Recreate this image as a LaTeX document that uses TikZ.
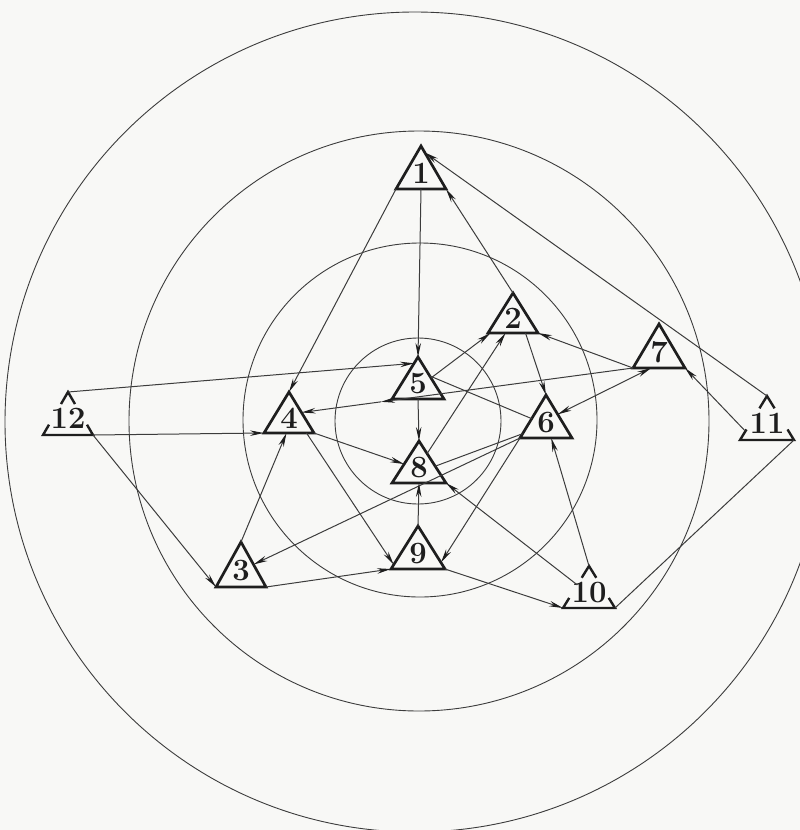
\documentclass[tikz,border=0pt]{standalone}
\usetikzlibrary{arrows.meta,calc}
\definecolor{bg}{RGB}{248,248,246}
\definecolor{ink}{RGB}{30,30,30}
\definecolor{thin}{RGB}{60,60,60}
\newcommand\mytri[6]{%
  \coordinate (#1a) at (#2,#3);
  \coordinate (#1l) at (#2-#5,#4);
  \coordinate (#1r) at (#2+#5,#4);
  \draw[tribox] (#1a) -- (#1l) -- (#1r) -- cycle;
  \node[num] (#1) at (#2,{#4-0.36*(#4-#3)}) {#6};
}
\newcommand\mybrokentri[6]{%
  \coordinate (#1a) at (#2,#3);
  \coordinate (#1l) at (#2-#5,#4);
  \coordinate (#1r) at (#2+#5,#4);
  \draw[brokenbox] ($(#1a)!0.28!(#1l)$) -- (#1a) -- ($(#1a)!0.28!(#1r)$);
  \draw[brokenbox] ($(#1a)!0.76!(#1l)$) -- (#1l) -- (#1r) -- ($(#1a)!0.76!(#1r)$);
  \node[num] (#1) at (#2,{#4-0.38*(#4-#3)}) {#6};
}
\begin{document}
\begin{tikzpicture}[x=1pt,y=-1pt,
  circ/.style={draw=thin, line width=0.9pt},
  edge/.style={draw=thin, line width=1pt},
  tip/.style={-{Stealth[length=14pt,width=5.5pt,color=ink]}},
  arr/.style={edge, tip},
  biarr/.style={edge, {Stealth[length=14pt,width=5.5pt,color=ink]}-{Stealth[length=14pt,width=5.5pt,color=ink]}},
  tribox/.style={draw=ink, line width=2.7pt, line join=miter},
  brokenbox/.style={draw=ink, line width=2.4pt, line join=miter},
  num/.style={font=\fontsize{31}{31}\selectfont\bfseries, text=ink, inner sep=0pt}]
\fill[bg] (0,0) rectangle (800,830);
\useasboundingbox (0,0) rectangle (800,830);
\clip (0,0) rectangle (800,830);
% circles
\draw[circ] (415,422) circle[radius=410pt];
\draw[circ] (419,421) circle[radius=290pt];
\draw[circ] (420,420) circle[radius=177pt];
\draw[circ] (418,421) circle[radius=83pt];
% nodes
\mytri{n1}{421}{146}{189}{25}{1}
\mytri{n2}{513}{293}{333}{25}{2}
\mytri{n7}{659}{324}{368}{26}{7}
\mytri{n4}{289}{392}{433}{25}{4}
\mytri{n5}{418}{357}{399}{26}{5}
\mytri{n6}{546}{395}{438}{26}{6}
\mytri{n8}{419}{441}{483}{27}{8}
\mytri{n3}{241}{542}{587}{25}{3}
\mytri{n9}{418}{526}{569}{27}{9}
\mybrokentri{n12}{68}{392}{435}{25}{12}
\mybrokentri{n11}{767}{396}{440}{27}{11}
\mybrokentri{n10}{589}{566}{608}{26}{10}
% helper points
\coordinate (n4rs) at ($(n4a)!0.5!(n4r)$);
\coordinate (m74) at ($(n7l)!0.76!(n4rs)$);
% connectors
\draw[arr] ($(n1l)!0.5!(n1r)$) -- (n5a);
\draw[arr] (n1l) -- (n4a);
\draw[arr] (n2a) -- (n1r);
\draw[arr] (n11a) -- ($(n1a)!0.15!(n1r)$);
\draw[arr] (n12a) -- ($(n5a)!0.15!(n5l)$);
\draw[arr] (n12r) -- (n4l);
\draw[arr] (n12r) -- (n3l);
\draw[arr] (n3a) -- ($(n4l)!0.45!(n4r)$);
\draw[arr] (n3r) -- (n9l);
\draw[arr] (n4r) -- ($(n8a)!0.55!(n8l)$);
\draw[arr] ($(n4l)!0.85!(n4r)$) -- ($(n9a)!0.9!(n9l)$);
\draw[arr] ($(n5a)!0.5!(n5r)$) -- ($(n2l)!0.05!(n2r)$);
\draw[arr] (n7l) -- (m74);
\draw[arr] (m74) -- (n4rs);
\draw[arr] (n7l) -- (n2r);
\draw[arr] ($(n2l)!0.75!(n2r)$) -- (n6a);
\draw[biarr] ($(n6a)!0.45!(n6r)$) -- ($(n7l)!0.35!(n7r)$);
\draw[arr] ($(n11a)!0.8!(n11l)$) -- (n7r);
\draw[edge] (n11r) -- (n10r);
\draw[arr] (n10a) -- ($(n6l)!0.6!(n6r)$);
\draw[arr] (n9r) -- (n10l);
\draw[arr] ($(n10a)!0.45!(n10l)$) -- (n8r);
\draw[arr] (n6l) -- ($(n9a)!0.85!(n9r)$);
\draw[arr] (n6l) -- ($(n3a)!0.5!(n3r)$);
\draw[edge] ($(n5a)!0.45!(n5r)$) -- ($(n6a)!0.55!(n6l)$);
\draw[arr] ($(n5l)!0.5!(n5r)$) -- (n8a);
\draw[arr] (n9a) -- ($(n8l)!0.5!(n8r)$);
\draw[arr] ($(n8a)!0.3!(n8r)$) -- ($(n2l)!0.35!(n2r)$);
\draw[edge] ($(n8a)!0.6!(n8r)$) -- ($(n6a)!0.9!(n6l)$);
\end{tikzpicture}
\end{document}
